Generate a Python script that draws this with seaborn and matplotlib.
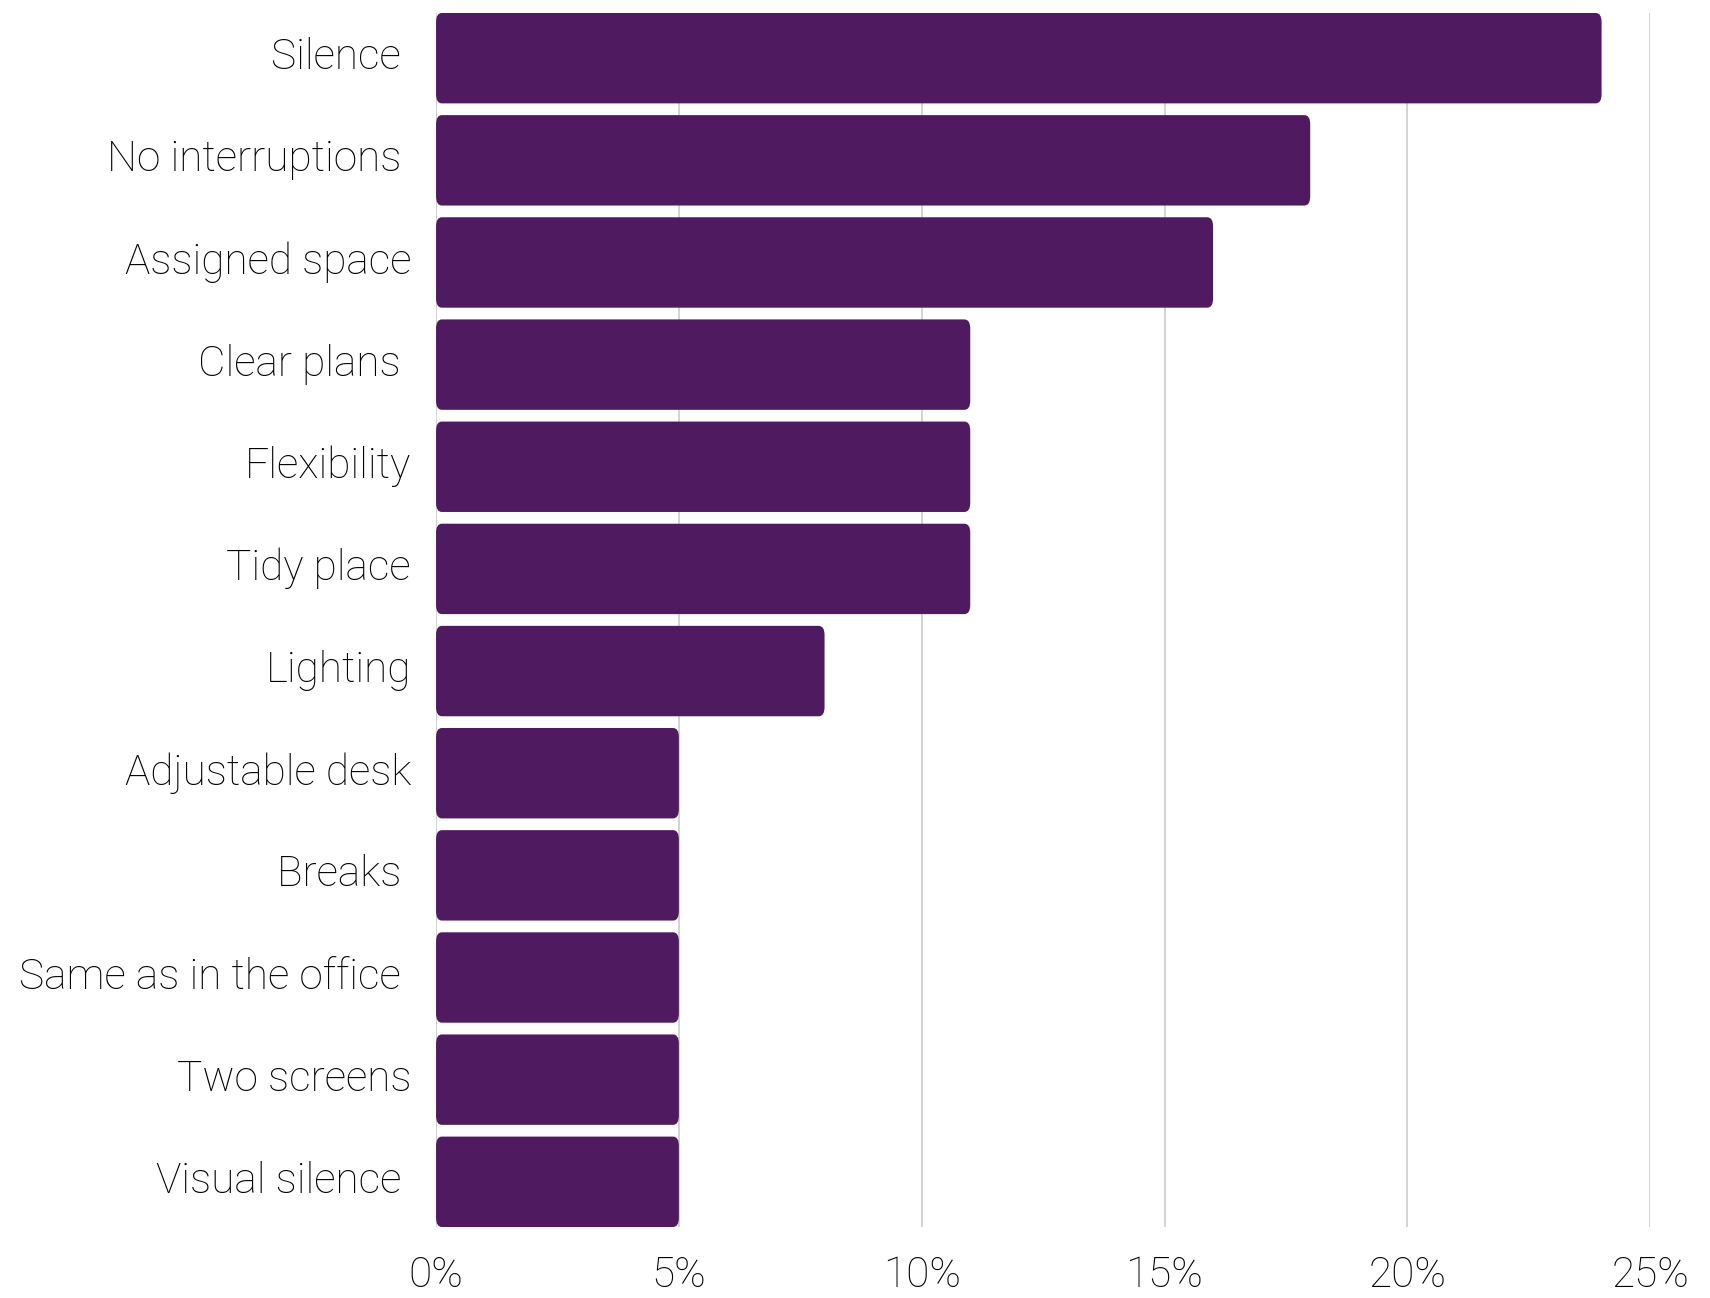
import matplotlib
matplotlib.use("Agg")
import matplotlib.pyplot as plt
import matplotlib.transforms as mtransforms
from matplotlib.patches import FancyBboxPatch
import seaborn as sns
import pandas as pd

categories = [
    "Silence ", "No interruptions ", "Assigned space", "Clear plans ",
    "Flexibility", "Tidy place", "Lighting", "Adjustable desk",
    "Breaks ", "Same as in the office ", "Two screens", "Visual silence ",
]
shares = [24, 18, 16, 11, 11, 11, 8, 5, 5, 5, 5, 5]
x_ticks = [0, 5, 10, 15, 20, 25]
x_tick_labels = ["0%", "5%", "10%", "15%", "20%", "25%"]

BAR_COLOR = "#4F1A60"
BAR_WIDTH = 0.885

sns.set_theme(style="white")
plt.rcParams["font.family"] = ["Roboto", "DejaVu Sans"]

df = pd.DataFrame({"item": categories, "share": shares})

fig = plt.figure(figsize=(17.1, 12.98), dpi=100)
ax = fig.add_axes([0.255, 0.0547, 0.71, 0.9353])

sns.barplot(data=df, x="share", y="item", orient="h", color=BAR_COLOR,
            saturation=1, width=BAR_WIDTH, ax=ax, zorder=2)

# swap the square bars for ones with softly rounded ends
for bar in list(ax.patches):
    x0, y0 = bar.get_x(), bar.get_y()
    w, h = bar.get_width(), bar.get_height()
    rounded = FancyBboxPatch((x0, y0), w, h,
                             boxstyle="round,pad=0,rounding_size=0.12",
                             mutation_aspect=0.75,
                             facecolor=BAR_COLOR, edgecolor="none", zorder=2)
    bar.remove()
    ax.add_patch(rounded)

n = len(categories)
ax.set_ylim(n - 1 + BAR_WIDTH / 2, -BAR_WIDTH / 2)
ax.set_xlim(0, 25)
ax.set_xticks(x_ticks)
ax.set_xticklabels(x_tick_labels)
ax.xaxis.grid(True, color="#cccccc", linewidth=1.2, zorder=0)
ax.set_axisbelow(True)
ax.yaxis.grid(False)
for s in ax.spines.values():
    s.set_visible(False)
ax.set_xlabel("")
ax.set_ylabel("")
ax.tick_params(axis="y", length=0, pad=18, labelsize=30.5)
ax.tick_params(axis="x", length=0, pad=20, labelsize=30.5)

# nudge the category labels up a touch so they sit centred on the bars
lift = mtransforms.ScaledTranslation(0, 3.5 / 72, fig.dpi_scale_trans)
for t in ax.get_yticklabels():
    t.set_transform(t.get_transform() + lift)
for t in ax.get_yticklabels() + ax.get_xticklabels():
    t.set_fontweight("light")
    t.set_color("#000000")

fig.savefig("out.png", dpi=100, facecolor="white")
